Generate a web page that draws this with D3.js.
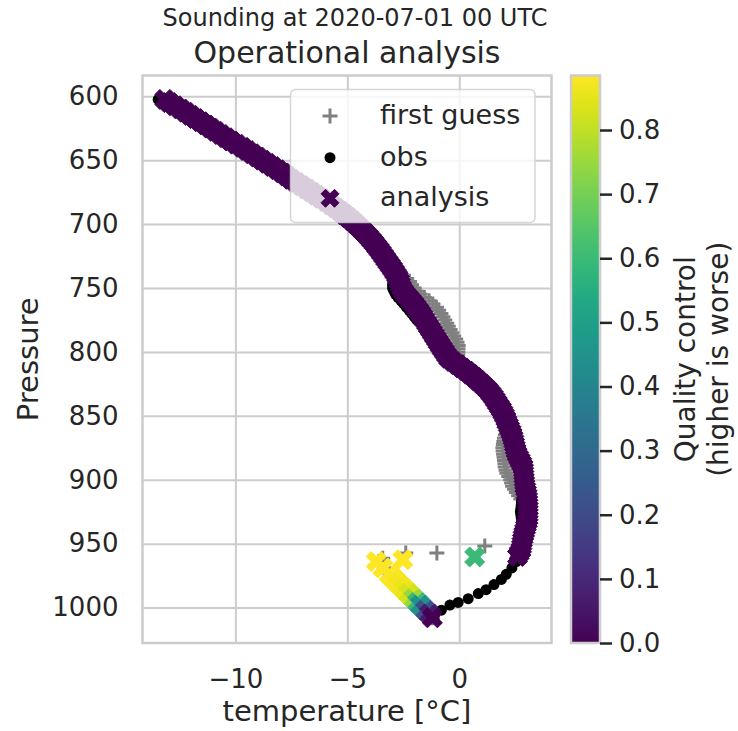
<!DOCTYPE html>
<html>
<head>
<meta charset="utf-8">
<script src="https://cdn.jsdelivr.net/npm/d3@7/dist/d3.min.js"></script>
<style>
  body { margin: 0; background: #fff; }
  text { font-family: "DejaVu Sans", sans-serif; fill: #262626; }
</style>
</head>
<body>
<div id="plot"></div>
<script>
/* sounding values (hPa, degC) */
var pressure = [602.5, 605, 607.5, 610, 612.5, 615, 617.5, 620, 622.5, 625,
  627.5, 630, 632.5, 635, 637.5, 640, 642.5, 645, 647.5, 650,
  652.5, 655, 657.5, 660, 662.5, 665, 667.5, 670, 672.5, 675,
  677.5, 680, 682.5, 685, 687.5, 690, 692.5, 695, 697.5, 700,
  702.5, 705, 707.5, 710, 712.5, 715, 717.5, 720, 722.5, 725,
  727.5, 730, 732.5, 735, 737.5, 740, 742.5, 745, 747.5, 750,
  752.5, 755, 757.5, 760, 762.5, 765, 767.5, 770, 772.5, 775,
  777.5, 780, 782.5, 785, 787.5, 790, 792.5, 795, 797.5, 800,
  802.5, 805, 807.5, 810, 812.5, 815, 817.5, 820, 822.5, 825,
  827.5, 830, 832.5, 835, 837.5, 840, 842.5, 845, 847.5, 850,
  852.5, 855, 857.5, 860, 862.5, 865, 867.5, 870, 872.5, 875,
  877.5, 880, 882.5, 885, 887.5, 890, 892.5, 895, 897.5, 900,
  902.5, 905, 907.5, 910, 912.5, 915, 917.5, 920, 922.5, 925,
  927.5, 930, 932.5, 935, 937.5, 940, 942.5, 945, 947.5, 950,
  952.5, 955, 957.5, 960,
  964, 969, 974, 978, 982, 986, 989, 993, 996, 998, 1002, 1005, 1008];

var tAnalysis = [-13.15, -12.95, -12.7, -12.45, -12.22, -12.0, -11.78, -11.55, -11.32, -11.1,
  -10.88, -10.65, -10.42, -10.2, -9.95, -9.7, -9.48, -9.25, -9.02, -8.8,
  -8.58, -8.35, -8.12, -7.9, -7.7, -7.5, -7.28, -7.05, -6.82, -6.6,
  -6.38, -6.15, -5.93, -5.72, -5.52, -5.32, -5.13, -4.95, -4.78, -4.62,
  -4.47, -4.32, -4.18, -4.05, -3.92, -3.8, -3.69, -3.58, -3.48, -3.38,
  -3.28, -3.18, -3.08, -2.98, -2.89, -2.8, -2.73, -2.67, -2.63, -2.58,
  -2.5, -2.4, -2.28, -2.15, -2.03, -1.92, -1.82, -1.72, -1.63, -1.55,
  -1.46, -1.38, -1.29, -1.2, -1.11, -1.02, -0.94, -0.85, -0.76, -0.66,
  -0.57, -0.47, -0.28, -0.08, 0.12, 0.32, 0.5, 0.68, 0.84, 1.0,
  1.15, 1.3, 1.41, 1.52, 1.61, 1.7, 1.79, 1.88, 1.95, 2.02,
  2.08, 2.13, 2.19, 2.25, 2.31, 2.36, 2.4, 2.44, 2.47, 2.5,
  2.54, 2.58, 2.65, 2.72, 2.79, 2.85, 2.87, 2.88, 2.89, 2.9,
  2.92, 2.93, 2.97, 3.0, 3.03, 3.05, 3.06, 3.07, 3.08, 3.08,
  3.08, 3.07, 3.04, 3.0, 2.96, 2.92, 2.88, 2.85, 2.82, 2.8,
  2.78, 2.75, 2.68, 2.6,
  -3.71, -3.42, -3.13, -2.9, -2.67, -2.44, -2.26, -2.03, -1.86, -1.74, -1.51, -1.33, -1.2];

var tFirstGuess = [-13.3, -12.95, -12.7, -12.45, -12.22, -12.0, -11.78, -11.55, -11.32, -11.1,
  -10.88, -10.65, -10.42, -10.2, -9.95, -9.7, -9.48, -9.25, -9.02, -8.8,
  -8.58, -8.35, -8.12, -7.9, -7.7, -7.5, -7.28, -7.05, -6.82, -6.6,
  -6.38, -6.15, -5.93, -5.72, -5.52, -5.32, -5.13, -4.95, -4.78, -4.62,
  -4.47, -4.32, -4.18, -4.05, -3.92, -3.8, -3.69, -3.58, -3.48, -3.38,
  -3.28, -3.18, -3.03, -2.83, -2.67, -2.5, -2.35, -2.22, -2.13, -2.03,
  -1.9, -1.75, -1.56, -1.35, -1.18, -1.02, -0.92, -0.82, -0.73, -0.65,
  -0.56, -0.49, -0.41, -0.33, -0.25, -0.16, -0.1, -0.05, -0.06, -0.06,
  -0.07, -0.07, 0.0, 0.07, 0.17, 0.32, 0.5, 0.68, 0.84, 1.0,
  1.15, 1.3, 1.41, 1.52, 1.61, 1.7, 1.79, 1.88, 1.95, 2.02,
  2.08, 2.13, 2.14, 2.15, 2.11, 2.06, 2.02, 1.99, 1.97, 1.95,
  1.96, 1.98, 2.0, 2.02, 2.04, 2.05, 2.09, 2.13, 2.21, 2.3,
  2.34, 2.38, 2.47, 2.55, 2.65, 2.75, 2.86, 2.97, 3.05, 3.08,
  3.08, 3.07, 3.04, 3.0, 2.96, 2.92, 2.88, 2.85, 2.82, 2.8,
  2.78, 2.75, 2.68, 2.6,
  -3.6, -3.35, -3.08, -2.86, -2.63, -2.42, -2.24, -2.01, -1.85, -1.73, -1.5, -1.32, -1.2];

var tObs = [-13.45, -12.95, -12.7, -12.45, -12.22, -12.0, -11.78, -11.55, -11.32, -11.1,
  -10.88, -10.65, -10.42, -10.2, -9.95, -9.7, -9.48, -9.25, -9.02, -8.8,
  -8.58, -8.35, -8.12, -7.9, -7.7, -7.5, -7.28, -7.05, -6.82, -6.6,
  -6.38, -6.15, -5.93, -5.72, -5.52, -5.32, -5.13, -4.95, -4.78, -4.62,
  -4.47, -4.32, -4.18, -4.05, -3.92, -3.8, -3.69, -3.58, -3.48, -3.38,
  -3.28, -3.18, -3.08, -2.98, -2.89, -2.8, -2.83, -2.97, -2.98, -2.98,
  -2.92, -2.85, -2.73, -2.6, -2.48, -2.37, -2.24, -2.12, -2.01, -1.9,
  -1.74, -1.6, -1.44, -1.3, -1.14, -1.02, -0.94, -0.85, -0.76, -0.66,
  -0.57, -0.47, -0.28, -0.08, 0.12, 0.32, 0.5, 0.68, 0.84, 1.0,
  1.15, 1.3, 1.41, 1.52, 1.61, 1.7, 1.79, 1.88, 1.95, 2.02,
  2.08, 2.13, 2.19, 2.25, 2.31, 2.36, 2.4, 2.44, 2.47, 2.5,
  2.54, 2.58, 2.65, 2.72, 2.79, 2.85, 2.87, 2.88, 2.89, 2.9,
  2.92, 2.93, 2.97, 3.0, 2.93, 2.8, 2.78, 2.77, 2.75, 2.73,
  2.75, 2.77, 2.79, 2.8, 2.86, 2.92, 2.88, 2.85, 2.82, 2.8,
  2.78, 2.75, 2.68, 2.6,
  2.55, 2.35, 2.1, 1.88, 1.55, 1.2, 0.85, 0.4, -0.05, -0.42, -0.8, -1.09, -1.3];

var qcValue = [0, 0, 0, 0, 0, 0, 0, 0, 0, 0,
  0, 0, 0, 0, 0, 0, 0, 0, 0, 0,
  0, 0, 0, 0, 0, 0, 0, 0, 0, 0,
  0, 0, 0, 0, 0, 0, 0, 0, 0, 0,
  0, 0, 0, 0, 0, 0, 0, 0, 0, 0,
  0, 0, 0, 0, 0, 0, 0, 0, 0, 0,
  0, 0, 0, 0, 0, 0, 0, 0, 0, 0,
  0, 0, 0, 0, 0, 0, 0, 0, 0, 0,
  0, 0, 0, 0, 0, 0, 0, 0, 0, 0,
  0, 0, 0, 0, 0, 0, 0, 0, 0, 0,
  0, 0, 0, 0, 0, 0, 0, 0, 0, 0,
  0, 0, 0, 0, 0, 0, 0, 0, 0, 0,
  0, 0, 0, 0, 0, 0, 0, 0, 0, 0,
  0, 0, 0, 0, 0, 0, 0, 0, 0, 0,
  0, 0, 0, 0,
  0.885, 0.885, 0.88, 0.875, 0.87, 0.86, 0.83, 0.75, 0.6, 0.45, 0.22, 0.06, 0.0];

/* a few loose points near the ground */
var extraGuessP = [961.5, 957.3, 957.3, 951.8];
var extraGuessT = [-3.42, -2.39, -1.0, 1.14];
var extraAnalysisP = [962.6, 960.4];
var extraAnalysisT = [-2.52, 0.69];
var extraAnalysisQc = [0.885, 0.6];

var pressureTicks = [600, 650, 700, 750, 800, 850, 900, 950, 1000];
var tempTicks = [-10, -5, 0];
var qcTicks = [0, 0.1, 0.2, 0.3, 0.4, 0.5, 0.6, 0.7, 0.8];
var legendLabels = ['first guess', 'obs', 'analysis'];

var W = 738, H = 731;
var box = {l: 142.5, r: 551.5, t: 75.5, b: 643};
var cbar = {l: 571, r: 600};
var xSize = 20;

var svg = d3.select('#plot').append('svg')
  .attr('width', W).attr('height', H);

var x = d3.scaleLinear().domain([-14.15, 4.12]).range([box.l, box.r]);
var y = d3.scaleLinear().domain([583.8, 1027.7]).range([box.t, box.b]);
var qcMax = 0.885;
var color = d3.scaleSequential(d3.interpolateViridis).domain([0, qcMax]);
var qcY = d3.scaleLinear().domain([0, qcMax]).range([box.b, box.t]);

/* grid + tick labels */
var gy = svg.append('g')
  .attr('transform', 'translate(' + box.l + ',0)')
  .call(d3.axisLeft(y).tickValues(pressureTicks).tickFormat(d3.format('d'))
    .tickSize(-(box.r - box.l)).tickPadding(24));
var gx = svg.append('g')
  .attr('transform', 'translate(0,' + box.b + ')')
  .call(d3.axisBottom(x).tickValues(tempTicks).tickSize(-(box.b - box.t)).tickPadding(27));
[gx, gy].forEach(function (g) {
  g.select('.domain').remove();
  g.selectAll('line').attr('stroke', '#cccccc').attr('stroke-width', 2);
  g.selectAll('text').attr('font-size', 26).attr('font-family', 'DejaVu Sans').attr('fill', '#262626');
});

svg.append('rect')
  .attr('x', box.l).attr('y', box.t)
  .attr('width', box.r - box.l).attr('height', box.b - box.t)
  .attr('fill', 'none').attr('stroke', '#cccccc').attr('stroke-width', 2.5);

/* markers */
function xMarker(s) {
  var v = [[-1, -2], [0, -1], [1, -2], [2, -1], [1, 0], [2, 1],
           [1, 2], [0, 1], [-1, 2], [-2, 1], [-1, 0], [-2, -1]];
  return 'M' + v.map(function (p) { return [p[0] * s / 4, p[1] * s / 4].join(','); }).join('L') + 'Z';
}
function plusMarker(s) {
  var h = s / 2;
  return 'M' + (-h) + ',0H' + h + 'M0,' + (-h) + 'V' + h;
}

var plot = svg.append('g');

var guessPts = pressure.map(function (p, i) { return {p: p, t: tFirstGuess[i]}; })
  .concat(extraGuessP.map(function (p, i) { return {p: p, t: extraGuessT[i]}; }));
var obsPts = pressure.map(function (p, i) { return {p: p, t: tObs[i]}; });
var anPts = pressure.map(function (p, i) { return {p: p, t: tAnalysis[i], q: qcValue[i]}; })
  .concat(extraAnalysisP.map(function (p, i) { return {p: p, t: extraAnalysisT[i], q: extraAnalysisQc[i]}; }));

plot.selectAll('.guess').data(guessPts).enter().append('path')
  .attr('class', 'guess')
  .attr('d', plusMarker(15))
  .attr('transform', function (d) { return 'translate(' + x(d.t) + ',' + y(d.p) + ')'; })
  .attr('stroke', '#808080').attr('stroke-width', 3).attr('fill', 'none');

plot.selectAll('.obs').data(obsPts).enter().append('circle')
  .attr('class', 'obs')
  .attr('cx', function (d) { return x(d.t); })
  .attr('cy', function (d) { return y(d.p); })
  .attr('r', 5.5)
  .attr('fill', '#000');

plot.selectAll('.analysis').data(anPts).enter().append('path')
  .attr('class', 'analysis')
  .attr('d', xMarker(xSize))
  .attr('transform', function (d) { return 'translate(' + x(d.t) + ',' + y(d.p) + ')'; })
  .attr('fill', function (d) { return color(d.q); })
  .attr('stroke', function (d) { return color(d.q); })
  .attr('stroke-width', 1);

/* legend */
var leg = svg.append('g');
leg.append('rect')
  .attr('x', 290.5).attr('y', 89.5).attr('width', 244.5).attr('height', 133).attr('rx', 5)
  .attr('fill', '#fff').attr('fill-opacity', 0.8)
  .attr('stroke', '#cccccc').attr('stroke-opacity', 0.8).attr('stroke-width', 1.5);
var legY = [116, 157.7, 198.3];
leg.append('path').attr('d', plusMarker(15)).attr('transform', 'translate(330,' + legY[0] + ')')
  .attr('stroke', '#808080').attr('stroke-width', 3);
leg.append('circle').attr('cx', 330).attr('cy', legY[1]).attr('r', 5.5).attr('fill', '#000');
leg.append('path').attr('d', xMarker(18)).attr('transform', 'translate(330,' + legY[2] + ')')
  .attr('fill', color(0)).attr('stroke', color(0)).attr('stroke-width', 1);
leg.selectAll('.lt').data(legendLabels).enter().append('text')
  .attr('class', 'lt')
  .attr('x', 380).attr('y', function (d, i) { return legY[i] + 8; })
  .attr('font-size', 27)
  .text(function (d) { return d; });

/* colorbar */
var grad = svg.append('defs').append('linearGradient')
  .attr('id', 'vir').attr('x1', 0).attr('y1', 1).attr('x2', 0).attr('y2', 0);
d3.range(0, 1.0001, 0.05).forEach(function (t) {
  grad.append('stop').attr('offset', t).attr('stop-color', d3.interpolateViridis(t));
});
svg.append('rect')
  .attr('x', cbar.l).attr('y', box.t).attr('width', cbar.r - cbar.l).attr('height', box.b - box.t)
  .attr('fill', 'url(#vir)').attr('stroke', '#cccccc').attr('stroke-width', 2.5);
var gc = svg.append('g')
  .attr('transform', 'translate(' + cbar.r + ',0)')
  .call(d3.axisRight(qcY).tickValues(qcTicks).tickSize(12).tickPadding(7).tickFormat(d3.format('.1f')));
gc.select('.domain').remove();
gc.selectAll('line').attr('stroke', '#262626').attr('stroke-width', 2.5);
gc.selectAll('text').attr('font-size', 26).attr('font-family', 'DejaVu Sans').attr('fill', '#262626');

/* titles and labels */
svg.append('text').attr('x', 355).attr('y', 26).attr('text-anchor', 'middle')
  .attr('font-size', 24).text('Sounding at 2020-07-01 00 UTC');
svg.append('text').attr('x', (box.l + box.r) / 2).attr('y', 63).attr('text-anchor', 'middle')
  .attr('font-size', 30).text('Operational analysis');
svg.append('text').attr('x', (box.l + box.r) / 2).attr('y', 721).attr('text-anchor', 'middle')
  .attr('font-size', 29).text('temperature [°C]');
svg.append('text').attr('transform', 'translate(38,' + (box.t + box.b) / 2 + ') rotate(-90)')
  .attr('text-anchor', 'middle').attr('font-size', 29).text('Pressure');
svg.append('text').attr('transform', 'translate(695,' + (box.t + box.b) / 2 + ') rotate(-90)')
  .attr('text-anchor', 'middle').attr('font-size', 28).text('Quality control');
svg.append('text').attr('transform', 'translate(728,' + (box.t + box.b) / 2 + ') rotate(-90)')
  .attr('text-anchor', 'middle').attr('font-size', 28).text('(higher is worse)');
</script>
</body>
</html>
